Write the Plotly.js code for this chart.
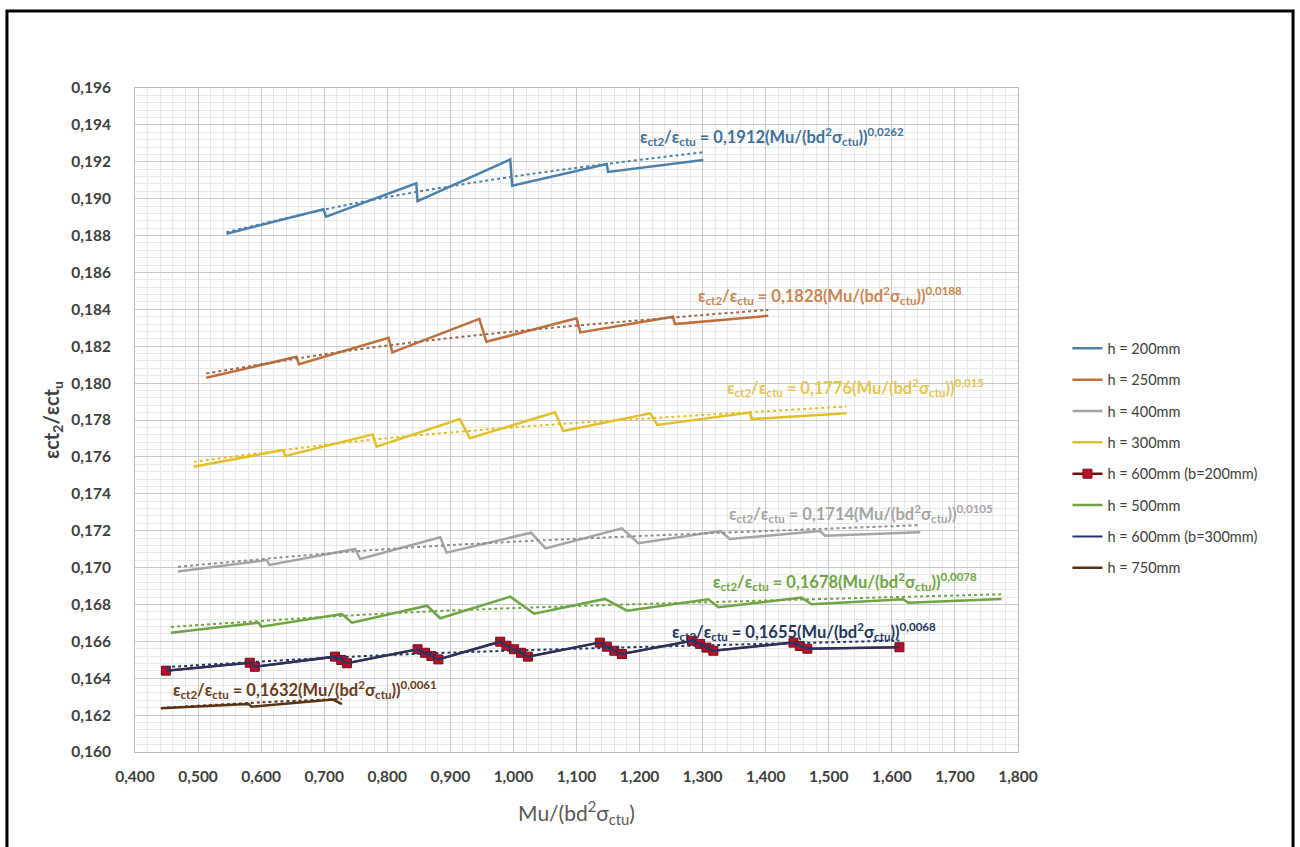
<!DOCTYPE html>
<html>
<head>
<meta charset="utf-8">
<script src="https://cdn.plot.ly/plotly-3.0.1.min.js"></script>
<style>
  html, body { margin: 0; padding: 0; background: #ffffff; }
  #chart { width: 1300px; height: 847px; }
</style>
</head>
<body>
<div id="chart"></div>
<script>
// ---------- data ----------
const seriesNames = ["h = 200mm", "h = 250mm", "h = 400mm", "h = 300mm",
  "h = 600mm (b=200mm)", "h = 500mm", "h = 600mm (b=300mm)", "h = 750mm"];

const h200X = [0.545, 0.699, 0.703, 0.846, 0.848, 0.995, 0.998, 1.148, 1.150, 1.301];
const h200Y = [0.18810, 0.18942, 0.18902, 0.19083, 0.18987, 0.19213, 0.19070, 0.19188, 0.19145, 0.19210];

const h250X = [0.513, 0.656, 0.660, 0.802, 0.808, 0.946, 0.957, 1.100, 1.106, 1.253, 1.256, 1.404];
const h250Y = [0.18029, 0.18143, 0.18102, 0.18246, 0.18167, 0.18348, 0.18224, 0.18351, 0.18275, 0.18360, 0.18320, 0.18365];

const h400X = [0.468, 0.609, 0.613, 0.749, 0.757, 0.884, 0.894, 1.028, 1.051, 1.172, 1.198, 1.328, 1.343, 1.486, 1.494, 1.645];
const h400Y = [0.16978, 0.17041, 0.17014, 0.17101, 0.17046, 0.17164, 0.17081, 0.17189, 0.17104, 0.17213, 0.17132, 0.17198, 0.17155, 0.17198, 0.17173, 0.17191];

const h300X = [0.493, 0.635, 0.638, 0.777, 0.783, 0.915, 0.931, 1.066, 1.079, 1.217, 1.228, 1.375, 1.378, 1.528];
const h300Y = [0.17547, 0.17637, 0.17605, 0.17722, 0.17655, 0.17805, 0.17701, 0.17842, 0.17740, 0.17836, 0.17773, 0.17840, 0.17805, 0.17836];

const h500X = [0.457, 0.596, 0.600, 0.728, 0.744, 0.863, 0.884, 0.995, 1.033, 1.145, 1.180, 1.309, 1.325, 1.457, 1.473, 1.618, 1.626, 1.774];
const h500Y = [0.16647, 0.16701, 0.16679, 0.16748, 0.16701, 0.16793, 0.16725, 0.16842, 0.16750, 0.16830, 0.16766, 0.16828, 0.16785, 0.16837, 0.16801, 0.16828, 0.16809, 0.16830];

const h600X = [0.449, 0.582, 0.590, 0.717, 0.727, 0.736, 0.848, 0.860, 0.870, 0.881, 0.979, 0.989, 1.001, 1.012, 1.023,
  1.137, 1.148, 1.160, 1.172, 1.283, 1.296, 1.306, 1.317, 1.444, 1.454, 1.466, 1.612];
const h600Y = [0.16441, 0.16484, 0.16462, 0.16517, 0.16499, 0.16481, 0.16557, 0.16538, 0.16520, 0.16502, 0.16598, 0.16576, 0.16557, 0.16538, 0.16517,
  0.16593, 0.16571, 0.16549, 0.16531, 0.16603, 0.16586, 0.16566, 0.16549, 0.16593, 0.16575, 0.16560, 0.16568];

const h750X = [0.441, 0.580, 0.585, 0.705, 0.714, 0.728];
const h750Y = [0.16237, 0.16260, 0.16246, 0.16280, 0.16284, 0.16260];

// power trendlines (dotted)
const t200X = [0.545, 0.75, 1.0, 1.301];  const t200Y = [0.18818, 0.18976, 0.19120, 0.19252];
const t250X = [0.513, 0.75, 1.0, 1.404];  const t250Y = [0.18052, 0.18181, 0.18280, 0.18397];
const t300X = [0.493, 0.75, 1.0, 1.528];  const t300Y = [0.17573, 0.17684, 0.17760, 0.17873];
const t400X = [0.468, 0.75, 1.0, 1.645];  const t400Y = [0.17004, 0.17088, 0.17140, 0.17230];
const t500X = [0.457, 0.75, 1.0, 1.774];  const t500Y = [0.16678, 0.16742, 0.16780, 0.16855];
const t600X = [0.449, 0.75, 1.0, 1.612];  const t600Y = [0.16460, 0.16518, 0.16550, 0.16604];
const t750X = [0.441, 0.60, 0.728];       const t750Y = [0.16239, 0.16269, 0.16288];

const equations = [
  "ε<sub>ct2</sub>/ε<sub>ctu</sub> = 0,1912(Mu/(bd<sup>2</sup>σ<sub>ctu</sub>))<sup>0,0262</sup>",
  "ε<sub>ct2</sub>/ε<sub>ctu</sub> = 0,1828(Mu/(bd<sup>2</sup>σ<sub>ctu</sub>))<sup>0,0188</sup>",
  "ε<sub>ct2</sub>/ε<sub>ctu</sub> = 0,1776(Mu/(bd<sup>2</sup>σ<sub>ctu</sub>))<sup>0,015</sup>",
  "ε<sub>ct2</sub>/ε<sub>ctu</sub> = 0,1714(Mu/(bd<sup>2</sup>σ<sub>ctu</sub>))<sup>0,0105</sup>",
  "ε<sub>ct2</sub>/ε<sub>ctu</sub> = 0,1678(Mu/(bd<sup>2</sup>σ<sub>ctu</sub>))<sup>0,0078</sup>",
  "ε<sub>ct2</sub>/ε<sub>ctu</sub> = 0,1655(Mu/(bd<sup>2</sup>σ<sub>ctu</sub>))<sup>0,0068</sup>",
  "ε<sub>ct2</sub>/ε<sub>ctu</sub> = 0,1632(Mu/(bd<sup>2</sup>σ<sub>ctu</sub>))<sup>0,0061</sup>"
];

// ---------- styling ----------
const C = {
  h200: "#4E81AB", h250: "#BF6F3B", h400: "#A5A5A5", h300: "#E3C02A",
  red: "#B3122B", h500: "#6FA544", h600: "#1F3864", h750: "#5A3214"
};
const FONT = "Lato, 'Open Sans', 'DejaVu Sans', sans-serif";
const LW = 2.5;

function line(x, y, name, color, extra) {
  return Object.assign({
    type: "scatter", mode: "lines", x: x, y: y, name: name,
    legendgroup: name, line: { color: color, width: LW }, hoverinfo: "skip"
  }, extra || {});
}
function trend(x, y, color) {
  return {
    type: "scatter", mode: "lines", x: x, y: y, showlegend: false,
    line: { color: color, width: 2, dash: "dot", shape: "spline" }, hoverinfo: "skip"
  };
}

const data = [
  line(h200X, h200Y, seriesNames[0], C.h200),
  line(h250X, h250Y, seriesNames[1], C.h250),
  line(h400X, h400Y, seriesNames[2], C.h400),
  line(h300X, h300Y, seriesNames[3], C.h300),
  line(h600X, h600Y, seriesNames[4], "#6E0E14", {
    mode: "lines+markers",
    marker: { symbol: "square", size: 9, color: C.red, line: { color: "#7A0C18", width: 1 } }
  }),
  line(h500X, h500Y, seriesNames[5], C.h500),
  line(h600X, h600Y, seriesNames[6], C.h600, { line: { color: C.h600, width: 2 } }),
  line(h750X, h750Y, seriesNames[7], C.h750),
  trend(t200X, t200Y, C.h200),
  trend(t250X, t250Y, "#9C6A4A"),
  trend(t300X, t300Y, C.h300),
  trend(t400X, t400Y, "#8F8F8F"),
  trend(t500X, t500Y, C.h500),
  trend(t600X, t600Y, C.h600),
  trend(t750X, t750Y, C.h750)
];

function eq(i, x, y, color) {
  return {
    text: "<b>" + equations[i] + "</b>", x: x, y: y, xref: "x", yref: "y",
    xanchor: "left", yanchor: "middle", showarrow: false,
    font: { family: FONT, size: 16.5, color: color }
  };
}

const layout = {
  width: 1300, height: 847,
  paper_bgcolor: "#ffffff", plot_bgcolor: "#ffffff",
  separators: ", ",
  margin: { l: 135, r: 282, t: 88, b: 95, pad: 0 },
  font: { family: FONT, color: "#404040" },
  showlegend: true,
  legend: {
    x: 1.056, y: 0.632, xanchor: "left", yanchor: "top",
    font: { family: FONT, size: 14.5, color: "#404040" },
    tracegroupgap: 9.5, bgcolor: "rgba(0,0,0,0)", itemwidth: 30
  },
  xaxis: {
    range: [0.4, 1.8], dtick: 0.1, tick0: 0.4, tickformat: ".3f",
    showgrid: true, gridcolor: "#C9C9C9", gridwidth: 1,
    minor: { dtick: 0.02, showgrid: true, gridcolor: "#E8E8E8", gridwidth: 1 },
    showline: true, linecolor: "#BDBDBD", linewidth: 1, mirror: true,
    zeroline: false, ticks: "", ticklabelstandoff: 10,
    tickfont: { family: FONT, size: 15.5, color: "#404040", weight: "bold" },
    title: { text: "Mu/(bd<sup>2</sup>σ<sub>ctu</sub>)", standoff: 22,
             font: { family: FONT, size: 21, color: "#595959" } }
  },
  yaxis: {
    range: [0.160, 0.196], dtick: 0.002, tick0: 0.160, tickformat: ".3f",
    showgrid: true, gridcolor: "#C9C9C9", gridwidth: 1,
    minor: { dtick: 0.0004, showgrid: true, gridcolor: "#E8E8E8", gridwidth: 1 },
    showline: true, linecolor: "#BDBDBD", linewidth: 1, mirror: true,
    zeroline: false, ticks: "", ticklabelstandoff: 20,
    tickfont: { family: FONT, size: 15.5, color: "#404040", weight: "bold" },
    title: { text: "<b>εct<sub>2</sub>/εct<sub>u</sub></b>", standoff: 6,
             font: { family: FONT, size: 20, color: "#404040" } }
  },
  annotations: [
    eq(0, 1.198, 0.19337, "#41719C"),
    eq(1, 1.289, 0.18475, "#CC8552"),
    eq(2, 1.336, 0.17975, "#E6C650"),
    eq(3, 1.338, 0.17293, "#A6A6A6"),
    eq(4, 1.313, 0.16925, "#6FA544"),
    eq(5, 1.249, 0.16654, "#22375E"),
    eq(6, 0.457, 0.16339, "#6A3A1A")
  ],
  shapes: [{
    type: "rect", xref: "paper", yref: "paper",
    x0: -0.1450, x1: 1.3115, y0: -0.17, y1: 1.1160,
    line: { color: "#000000", width: 3 }, fillcolor: "rgba(0,0,0,0)", layer: "above"
  }]
};

Plotly.newPlot("chart", data, layout, { displayModeBar: false, staticPlot: true });
</script>
</body>
</html>
